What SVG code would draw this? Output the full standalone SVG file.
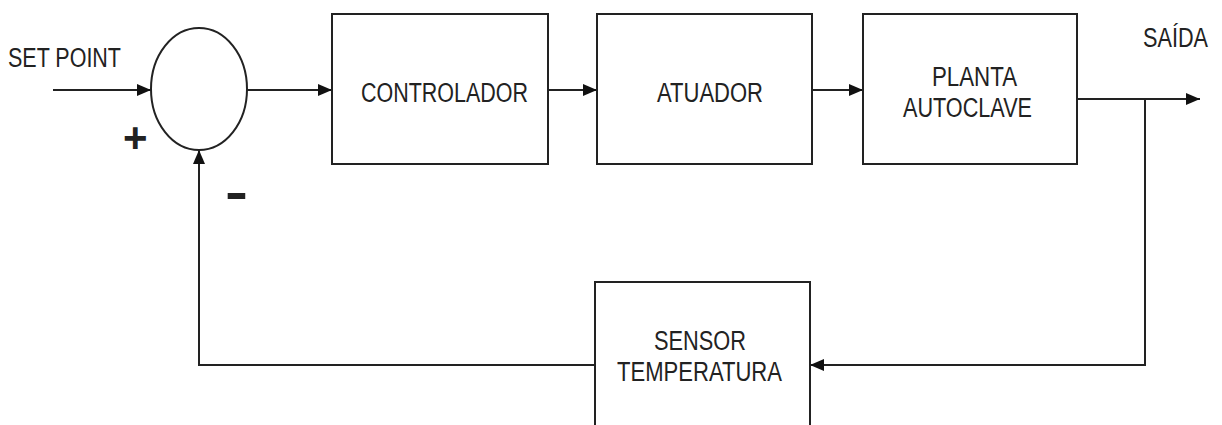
<svg xmlns="http://www.w3.org/2000/svg" width="1222" height="425" viewBox="0 0 1222 425">
  <style>
    .box { fill: #ffffff; stroke: #222222; stroke-width: 2; }
    .wire { fill: none; stroke: #222222; stroke-width: 2; }
    .lbl { font-family: "Liberation Sans", Arial, sans-serif; font-size: 27px; fill: #222222; }
    .sign { font-family: "Liberation Sans", Arial, sans-serif; font-weight: bold; fill: #222222; }
  </style>
  <defs>
    <marker id="arr" viewBox="0 0 14 12" refX="14" refY="6" markerWidth="14" markerHeight="12" markerUnits="userSpaceOnUse" orient="auto">
      <path d="M0,0 L14,6 L0,12 Z" fill="#111111"/>
    </marker>
  </defs>
  <rect width="1222" height="425" fill="#ffffff"/>

  <g id="connectors">
    <line class="wire" x1="53" y1="90" x2="151" y2="90" marker-end="url(#arr)"/>
    <line class="wire" x1="247" y1="90" x2="332" y2="90" marker-end="url(#arr)"/>
    <line class="wire" x1="548" y1="90" x2="597" y2="90" marker-end="url(#arr)"/>
    <line class="wire" x1="812" y1="90" x2="863" y2="90" marker-end="url(#arr)"/>
    <line class="wire" x1="1077" y1="99" x2="1200" y2="99" marker-end="url(#arr)"/>
    <polyline class="wire" points="1145,99 1145,365 810,365" marker-end="url(#arr)"/>
    <polyline class="wire" points="595,365 199,365 199,150" marker-end="url(#arr)"/>
  </g>

  <g id="summing-junction">
    <ellipse class="box" cx="199" cy="89" rx="48" ry="61"/>
    <text class="sign" x="123" y="152" font-size="42">+</text>
    <text class="sign" x="225" y="209" font-size="50" textLength="23" lengthAdjust="spacingAndGlyphs">-</text>
  </g>

  <g id="set-point">
    <text class="lbl" x="8" y="67" textLength="113" lengthAdjust="spacingAndGlyphs">SET POINT</text>
  </g>

  <g id="controlador">
    <rect class="box" x="332" y="14" width="216" height="150"/>
    <text class="lbl" x="361" y="102" textLength="167" lengthAdjust="spacingAndGlyphs">CONTROLADOR</text>
  </g>

  <g id="atuador">
    <rect class="box" x="597" y="14" width="215" height="150"/>
    <text class="lbl" x="657" y="102" textLength="106" lengthAdjust="spacingAndGlyphs">ATUADOR</text>
  </g>

  <g id="planta">
    <rect class="box" x="863" y="14" width="214" height="150"/>
    <text class="lbl" x="932" y="86" textLength="85" lengthAdjust="spacingAndGlyphs">PLANTA</text>
    <text class="lbl" x="903" y="117" textLength="129" lengthAdjust="spacingAndGlyphs">AUTOCLAVE</text>
  </g>

  <g id="saida">
    <text class="lbl" x="1143" y="47" textLength="65" lengthAdjust="spacingAndGlyphs">SAÍDA</text>
  </g>

  <g id="sensor">
    <rect class="box" x="595" y="282" width="215" height="160"/>
    <text class="lbl" x="654" y="350" textLength="92" lengthAdjust="spacingAndGlyphs">SENSOR</text>
    <text class="lbl" x="617" y="381" textLength="165" lengthAdjust="spacingAndGlyphs">TEMPERATURA</text>
  </g>
</svg>
